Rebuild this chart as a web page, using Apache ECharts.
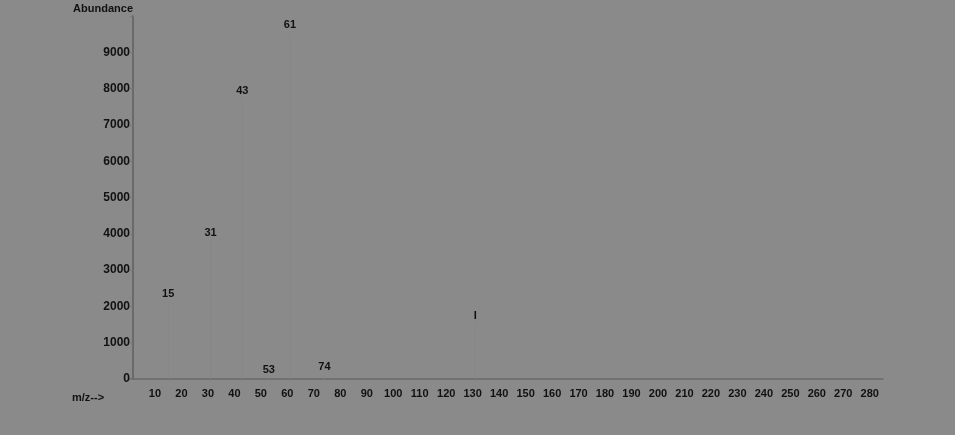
<!DOCTYPE html>
<html>
<head>
<meta charset="utf-8">
<script src="https://cdn.jsdelivr.net/npm/echarts@6/dist/echarts.min.js"></script>
<style>
html,body{margin:0;padding:0;background:#8a8a8a;}
#c{width:955px;height:435px;}
</style>
</head>
<body>
<div id="c"></div>
<script>
const mz = [15, 31, 43, 53, 61, 74, 131];
const abundance = [2120, 3800, 7700, 20, 9520, 110, 1510];
const peakLabels = ['15', '31', '43', '53', '61', '74', 'I'];
const xTicks = [10,20,30,40,50,60,70,80,90,100,110,120,130,140,150,160,170,180,190,200,210,220,230,240,250,260,270,280];
const yTicks = [0,1000,2000,3000,4000,5000,6000,7000,8000,9000];

const chart = echarts.init(document.getElementById('c'));
const font = 'Liberation Sans, Arial, sans-serif';
const ink = '#111111';
chart.setOption({
  backgroundColor: '#8a8a8a',
  animation: false,
  title: {
    text: 'm/z-->', left: 67, top: 387,
    textStyle: {fontFamily: font, fontSize: 11, fontWeight: 'bold', color: ink}
  },
  grid: {left: 128.5, right: 72, top: 16, bottom: 56},
  xAxis: {
    type: 'value', min: 0, max: 285, interval: 10,
    axisLine: {show: true, lineStyle: {color: '#6a6a6a', width: 1.5}},
    axisTick: {show: false},
    splitLine: {show: false},
    axisLabel: {
      margin: 9, color: ink, fontFamily: font, fontSize: 11, fontWeight: 'bold',
      formatter: v => xTicks.includes(v) ? String(v) : ''
    }
  },
  yAxis: {
    type: 'value', min: 0, max: 10000, interval: 1000, offset: -4.5,
    name: 'Abundance', nameLocation: 'end', nameGap: 2,
    nameTextStyle: {fontFamily: font, fontSize: 11, fontWeight: 'bold', color: ink, align: 'right'},
    axisLine: {show: true, lineStyle: {color: '#5f5f5f', width: 1.5}},
    axisTick: {show: true, length: 3, lineStyle: {color: '#777'}},
    splitLine: {show: false},
    axisLabel: {
      margin: 3, color: ink, fontFamily: font, fontSize: 12, fontWeight: 'bold',
      formatter: v => yTicks.includes(v) ? String(v) : ''
    }
  },
  series: [{
    type: 'bar',
    barWidth: 1,
    itemStyle: {color: '#878787'},
    label: {
      show: true, position: 'top', distance: 3,
      color: ink, fontFamily: font, fontSize: 11, fontWeight: 'bold',
      formatter: p => peakLabels[p.dataIndex]
    },
    data: mz.map((m, i) => [m, abundance[i]])
  }]
});
</script>
</body>
</html>
